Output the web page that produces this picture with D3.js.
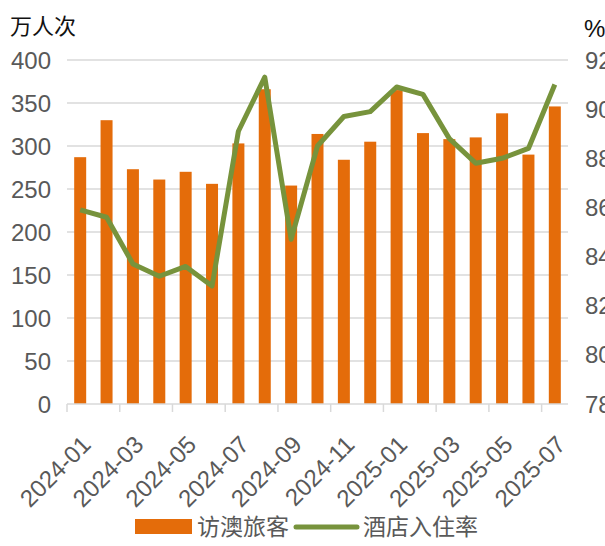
<!DOCTYPE html>
<html>
<head>
<meta charset="utf-8">
<script src="https://cdn.jsdelivr.net/npm/d3@7"></script>
<style>
  body { margin: 0; background: #fff; }
  svg { display: block; }
  text { font-family: "Liberation Sans", Arial, sans-serif; }
  .cjk { font-family: "Noto Sans CJK SC", sans-serif; }
</style>
</head>
<body>
<div id="chart"></div>
<script>
const months = ['2024-01','2024-02','2024-03','2024-04','2024-05','2024-06','2024-07','2024-08','2024-09','2024-10','2024-11','2024-12',
  '2025-01','2025-02','2025-03','2025-04','2025-05','2025-06','2025-07'];
// 访澳旅客 (万人次)
const visitors = [287, 330, 273, 261, 270, 256, 303, 366, 254, 314, 284, 305, 365, 315, 308, 310, 338, 290, 346];
// 酒店入住率 (%)
const occupancy = [85.9, 85.6, 83.7, 83.2, 83.6, 82.8, 89.1, 91.3, 84.7, 88.5, 89.7, 89.9, 90.9, 90.6, 88.8, 87.8, 88.0, 88.4, 91.0];
const leftTicks = [0, 50, 100, 150, 200, 250, 300, 350, 400];
const rightTicks = [78, 80, 82, 84, 86, 88, 90, 92];

const W = 605, H = 546;
const margin = { top: 60, right: 37, bottom: 142, left: 67 };
const barColor = '#E46C0A';
const lineColor = '#77933C';
const gridColor = '#d9d9d9';
const labelColor = '#595959';

const svg = d3.select('#chart').append('svg').attr('width', W).attr('height', H);

const x = d3.scaleBand()
  .domain(months)
  .range([margin.left, W - margin.right])
  .paddingInner(0.545)
  .paddingOuter(0.2725);
const yL = d3.scaleLinear().domain([0, 400]).range([H - margin.bottom, margin.top]);
const yR = d3.scaleLinear().domain([78, 92]).range([H - margin.bottom, margin.top]);

const cx = d => x(d) + x.bandwidth() / 2;
const leftEdge = d => x(d) - x.step() * x.paddingInner() / 2;

// gridlines
svg.selectAll('.grid')
  .data(leftTicks.slice(1))
  .enter()
  .append('line')
  .attr('x1', margin.left)
  .attr('x2', W - margin.right)
  .attr('y1', d => yL(d))
  .attr('y2', d => yL(d))
  .attr('stroke', gridColor)
  .attr('stroke-width', 1.5);

// left labels
svg.selectAll('.yl')
  .data(leftTicks)
  .enter()
  .append('text')
  .attr('x', 51)
  .attr('y', d => yL(d))
  .attr('dy', '0.36em')
  .attr('text-anchor', 'end')
  .attr('fill', labelColor)
  .attr('font-size', 24)
  .text(d => d);

// right labels (cut off by the right edge, as in the original)
svg.selectAll('.yr')
  .data(rightTicks)
  .enter()
  .append('text')
  .attr('x', 585)
  .attr('y', d => yR(d))
  .attr('dy', '0.36em')
  .attr('text-anchor', 'start')
  .attr('fill', labelColor)
  .attr('font-size', 24)
  .text(d => d);

// unit labels
svg.append('text')
  .attr('class', 'cjk')
  .attr('x', 10)
  .attr('y', 34)
  .attr('fill', '#111')
  .attr('font-size', 22)
  .text('万人次');
svg.append('text')
  .attr('x', 584)
  .attr('y', 37)
  .attr('fill', '#111')
  .attr('font-size', 24)
  .text('%');

// bars
svg.selectAll('.bar')
  .data(months)
  .enter()
  .append('rect')
  .attr('x', d => x(d))
  .attr('y', (d, i) => yL(visitors[i]))
  .attr('width', x.bandwidth())
  .attr('height', (d, i) => yL(0) - yL(visitors[i]))
  .attr('fill', barColor);

// x axis
const base = yL(0);
svg.append('line')
  .attr('x1', margin.left)
  .attr('x2', W - margin.right)
  .attr('y1', base)
  .attr('y2', base)
  .attr('stroke', gridColor)
  .attr('stroke-width', 1.5);

const tickMonths = months.filter((d, i) => i % 2 === 0);
svg.selectAll('.xtick')
  .data(tickMonths)
  .enter()
  .append('line')
  .attr('x1', d => leftEdge(d))
  .attr('x2', d => leftEdge(d))
  .attr('y1', base)
  .attr('y2', base + 8)
  .attr('stroke', gridColor)
  .attr('stroke-width', 1.5);

svg.selectAll('.xlabel')
  .data(tickMonths)
  .enter()
  .append('text')
  .attr('transform', d => `translate(${cx(d) + 6},${base + 36}) rotate(-45)`)
  .attr('text-anchor', 'end')
  .attr('dy', '0.36em')
  .attr('fill', labelColor)
  .attr('font-size', 24)
  .text(d => d);

// line
const line = d3.line()
  .x(d => cx(d.m))
  .y(d => yR(d.v));
svg.append('path')
  .datum(months.map((m, i) => ({ m, v: occupancy[i] })))
  .attr('d', line)
  .attr('fill', 'none')
  .attr('stroke', lineColor)
  .attr('stroke-width', 5)
  .attr('stroke-linejoin', 'round');

// legend
const lg = svg.append('g');
lg.append('rect')
  .attr('x', 135).attr('y', 519)
  .attr('width', 57).attr('height', 15)
  .attr('fill', barColor);
lg.append('text')
  .attr('class', 'cjk')
  .attr('x', 197).attr('y', 527)
  .attr('dy', '0.36em')
  .attr('fill', labelColor)
  .attr('font-size', 23)
  .text('访澳旅客');
lg.append('line')
  .attr('x1', 296).attr('x2', 357)
  .attr('y1', 527).attr('y2', 527)
  .attr('stroke', lineColor)
  .attr('stroke-width', 5)
  .attr('stroke-linecap', 'round');
lg.append('text')
  .attr('class', 'cjk')
  .attr('x', 363).attr('y', 527)
  .attr('dy', '0.36em')
  .attr('fill', labelColor)
  .attr('font-size', 23)
  .text('酒店入住率');
</script>
</body>
</html>
